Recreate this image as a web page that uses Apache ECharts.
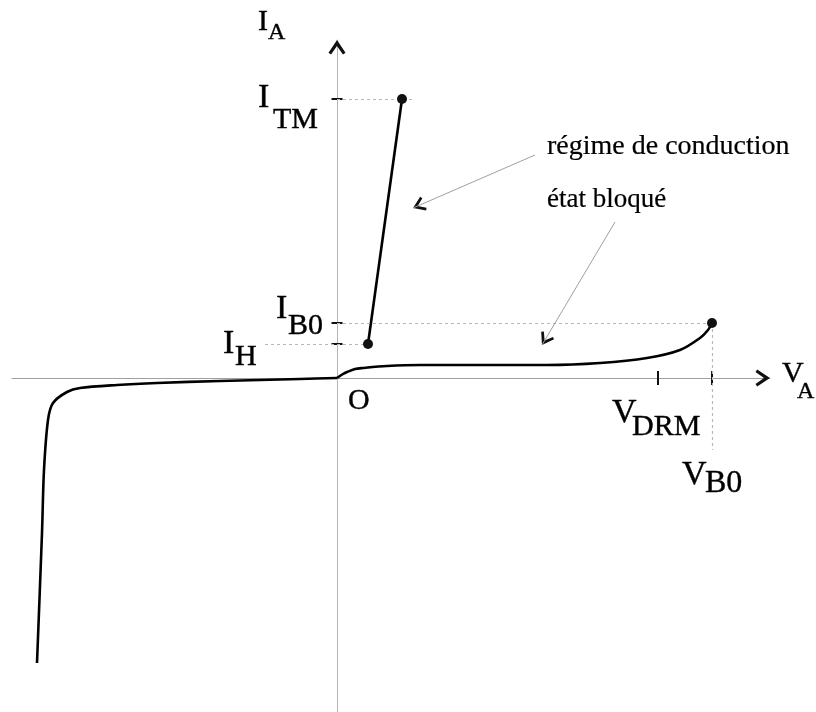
<!DOCTYPE html>
<html>
<head>
<meta charset="utf-8">
<script src="https://cdn.jsdelivr.net/npm/echarts@6/dist/echarts.min.js"></script>
<style>
    html, body { margin: 0; padding: 0; background: #fff; }
    #chart { width: 816px; height: 712px; }
</style>
</head>
<body>
<div id="chart"></div>
<script>
// caractéristique I(V) d'un thyristor, unités arbitraires
const V_DRM = 321;
const V_B0 = 375;
const V_H = 31;
const V_TM = 65;
const I_H = 34;
const I_B0 = 55;
const I_TM = 279;

// état bloqué direct, de O jusqu'au retournement
const blockV = [0, 6, 10, 18, 26, 50, 83, 163, 210, 263, 310, 343, 363, 371, 375];
const blockI = [0, 4, 6, 9, 10, 12, 13, 13, 13, 15, 20, 28, 40, 48, 55];

// zone inverse
const reverseV = [0, -37, -117, -180, -220, -257, -270, -284, -289, -293, -295, -300];
const reverseI = [0, -1, -3, -5, -7, -10, -14, -25, -42, -92, -155, -285];

// régime de conduction : de I_H à I_TM
const onV = [V_H, V_TM];
const onI = [I_H, I_TM];

// annotations
const notes = ['régime de conduction', 'état bloqué'];
const noteFrom = [[198, 223], [278, 156]];
const noteTo = [[76, 170], [205, 33]];

const X_MIN = -325, X_MAX = 433;
const Y_MIN = -334, Y_MAX = 338;

const serif = '"Liberation Serif", "DejaVu Serif", serif';
const ink = '#000';
// chevron avec la pointe au centre de la boîte
const chevron = 'path://M10,0 L20,15 L17,17 L10,7 L3,17 L0,15 Z M9.9,-17 L10.1,-17 L10,-16.8 Z';

const zip = (a, b) => a.map((v, i) => [v, b[i]]);

// un morceau de texte accroché à un point du repère
function txt(value, text, size, dx, dy) {
    return {
        value: value,
        label: {
            show: true, position: 'inside', formatter: text,
            align: 'left', verticalAlign: 'middle', offset: [dx, dy],
            fontSize: size, fontFamily: serif, color: ink, opacity: 1,
            textBorderColor: ink, textBorderWidth: 0.4
        }
    };
}

// lettre principale + indice
const labels = [
    txt([0, Y_MAX], 'I', 30, -79, -18), txt([0, Y_MAX], 'A', 24, -69, -7),
    txt([X_MAX, 0], 'V', 30, 12, -4), txt([X_MAX, 0], 'A', 24, 27, 14),
    txt([0, I_TM], 'I', 34, -79, -1), txt([0, I_TM], 'TM', 30, -64, 21),
    txt([0, I_B0], 'I', 34, -61, -14), txt([0, I_B0], 'B0', 30, -49, 3),
    txt([0, I_H], 'I', 34, -114, 0), txt([0, I_H], 'H', 30, -102, 13),
    txt([0, 0], 'O', 30, 11, 23),
    txt([V_DRM, 0], 'V', 34, -46, 35), txt([V_DRM, 0], 'DRM', 30, -26, 49),
    txt([V_B0, 0], 'V', 34, -30, 97), txt([V_B0, 0], 'B0', 32, -7, 106)
];

const guideStyle = { color: '#b8b8b8', width: 1.2, type: [3, 3] };
const guides = [
    [{ coord: [0, I_TM] }, { coord: [V_TM + 10, I_TM] }],
    [{ coord: [-72, I_H] }, { coord: [V_H, I_H] }],
    [{ coord: [0, I_B0] }, { coord: [V_B0, I_B0] }],
    [{ coord: [V_B0, I_B0] }, { coord: [V_B0, -72] }]
];

const noteLines = noteFrom.map((p, i) => [{ coord: p }, { coord: noteTo[i] }]);
const noteHeads = noteTo.map((p, i) => {
    const ang = Math.atan2(p[1] - noteFrom[i][1], p[0] - noteFrom[i][0]) * 180 / Math.PI;
    return { value: p, symbolRotate: ang - 90 };
});
const noteLabels = [
    txt(noteFrom[0], notes[0], 28, 12, -8),
    txt(noteFrom[1], notes[1], 27, -68, -22)
];
noteLabels.forEach(d => { d.label.textBorderWidth = 0.2; });

const chart = echarts.init(document.getElementById('chart'));
chart.setOption({
    animation: false,
    backgroundColor: '#fff',
    grid: { left: 12, right: 46, top: 40, bottom: 0 },
    xAxis: {
        type: 'value', min: X_MIN, max: X_MAX,
        axisLine: { onZero: true, lineStyle: { color: '#a0a0a0', width: 1 } },
        axisTick: { show: false }, axisLabel: { show: false }, splitLine: { show: false }
    },
    yAxis: {
        type: 'value', min: Y_MIN, max: Y_MAX,
        axisLine: { onZero: true, lineStyle: { color: '#b4b4b4', width: 1 } },
        axisTick: { show: false }, axisLabel: { show: false }, splitLine: { show: false }
    },
    series: [
        {
            name: 'bloqué',
            type: 'line',
            data: zip(blockV, blockI),
            smooth: 0.3,
            symbol: 'none',
            lineStyle: { color: '#000', width: 2.6 },
            markLine: {
                silent: true,
                symbol: 'none',
                label: { show: false },
                lineStyle: guideStyle,
                data: guides
            }
        },
        {
            name: 'inverse',
            type: 'line',
            data: zip(reverseV, reverseI),
            smooth: 0.3,
            symbol: 'none',
            lineStyle: { color: '#000', width: 2.6 }
        },
        {
            name: 'conduction',
            type: 'line',
            data: zip(onV, onI),
            symbol: 'none',
            lineStyle: { color: '#000', width: 2.6 },
            markLine: {
                silent: true,
                symbol: 'none',
                label: { show: false },
                lineStyle: { color: '#a0a0a0', width: 1, type: 'solid' },
                data: noteLines
            }
        },
        {
            name: 'points',
            type: 'scatter',
            clip: false,
            z: 5,
            symbol: 'circle',
            symbolSize: 10,
            itemStyle: { color: '#111', opacity: 1, borderWidth: 0 },
            data: [[V_TM, I_TM], [V_H, I_H], [V_B0, I_B0]]
        },
        {
            name: 'graduations I',
            type: 'scatter',
            clip: false,
            symbol: 'rect',
            symbolSize: [11, 2],
            itemStyle: { color: '#111', opacity: 1 },
            data: [[0, I_TM], [0, I_B0], [0, I_H]]
        },
        {
            name: 'graduations V',
            type: 'scatter',
            clip: false,
            symbol: 'rect',
            symbolSize: [2, 14],
            itemStyle: { color: '#111', opacity: 1 },
            data: [[V_DRM, 0], [V_B0, 0]]
        },
        {
            name: 'flèches axes',
            type: 'scatter',
            clip: false,
            symbol: chevron,
            symbolSize: [17, 29],
            itemStyle: { color: '#111', opacity: 1 },
            data: [{ value: [X_MAX, 0], symbolRotate: -90 }, { value: [0, Y_MAX], symbolRotate: 0 }]
        },
        {
            name: 'flèches notes',
            type: 'scatter',
            clip: false,
            symbol: chevron,
            symbolSize: [15, 25],
            itemStyle: { color: '#111', opacity: 1 },
            data: noteHeads
        },
        {
            name: 'textes',
            type: 'scatter',
            clip: false,
            symbolSize: 1,
            itemStyle: { color: 'rgba(0,0,0,0)', opacity: 1 },
            data: noteLabels.concat(labels)
        }
    ]
});
</script>
</body>
</html>
